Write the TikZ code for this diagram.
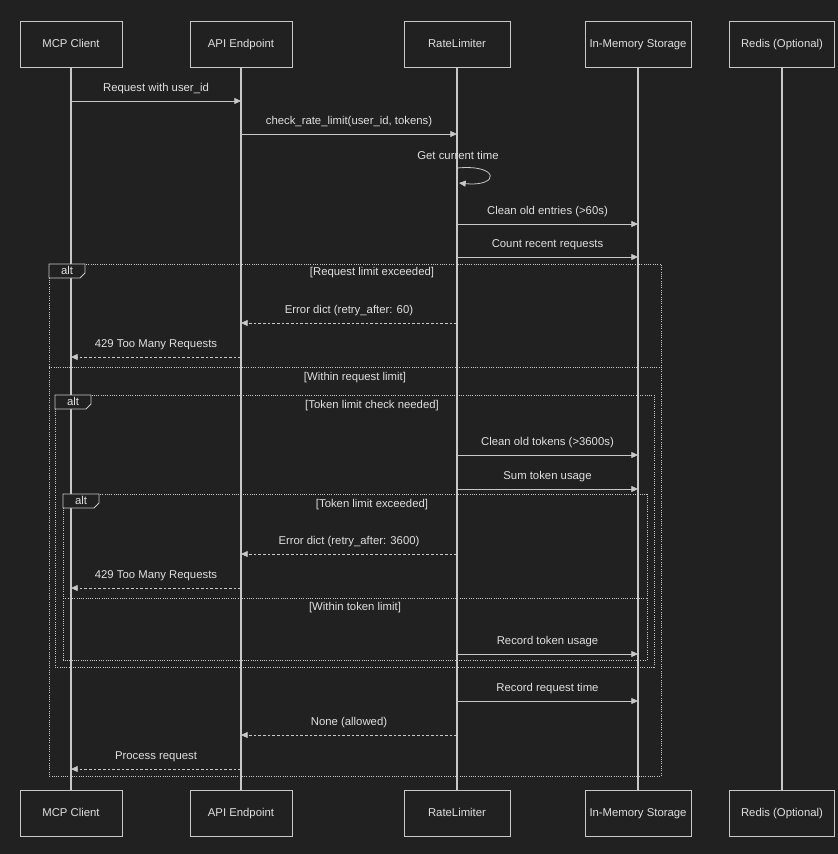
\documentclass[tikz,border=0pt]{standalone}
\usepackage{fontspec}
\setmainfont{Liberation Sans}
\usetikzlibrary{arrows.meta}
\definecolor{bg}{HTML}{212121}
\definecolor{ln}{HTML}{C8C8C8}
\definecolor{tx}{HTML}{E0E0E0}
\begin{document}
\begin{tikzpicture}[x=0.75pt,y=-0.75pt,font=\fontsize{8.5}{10}\selectfont,text=tx,
 actor/.style={draw=ln,fill=bg,minimum width=76.5pt,minimum height=34.5pt,inner sep=1pt,text height=6.5pt,text depth=2pt},
 life/.style={ln,line width=1pt},
 msg/.style={ln,line width=0.6pt,-{Triangle[length=5pt,width=4.5pt]}},
 rep/.style={msg,dash pattern=on 2pt off 1.5pt},
 lbl/.style={font=\fontsize{8.5}{10}\selectfont,text=tx,text height=6.5pt,text depth=2pt},
 frame/.style={ln,densely dotted,line width=0.7pt},
 tab/.style={draw=ln,line width=0.6pt,fill=bg}]
\fill[bg] (0,0) rectangle (838,854);
\useasboundingbox (0,0) rectangle (838,854);
\foreach \n/\x/\t/\w in {a/71/MCP Client/102,b/241/API Endpoint/102,c/457/RateLimiter/106,d/638/In-Memory Storage/106,e/782/Redis (Optional)/105}{
 \coordinate (\n t) at (\x,67); \coordinate (\n b) at (\x,790);
 \draw[life] (\n t) -- (\n b);
 \node[actor,minimum width=\w*0.75pt] (\n top) at (\x,44) {\t};
 \node[actor,minimum width=\w*0.75pt] (\n bot) at (\x,813) {\t};
}
% frames
\draw[frame] (49,264) rectangle (661,776);
\draw[frame] (49,367) -- (661,367);
\draw[frame] (55,395) rectangle (654,667);
\draw[frame] (63,494) rectangle (647,660);
\draw[frame] (63,598) -- (647,598);
\foreach \x/\y in {49/264,55/395,63/494}{
 \draw[tab] (\x,\y) -- (\x+36,\y) -- (\x+36,\y+9) -- (\x+31,\y+14) -- (\x,\y+14) -- cycle;
 \node[lbl] at (\x+18,\y+7) {alt};
}
\node[lbl] at (372,272) {[Request limit exceeded]};
\node[lbl] at (355,377) {[Within request limit]};
\node[lbl] at (372,405) {[Token limit check needed]};
\node[lbl] at (372,504) {[Token limit exceeded]};
\node[lbl] at (355,607) {[Within token limit]};
% messages
\newcommand\hm[6]{\coordinate (s#6) at (#1,#3); \coordinate (e#6) at (#2,#3);
 \draw[#5] (s#6) -- (e#6); \node[lbl] at ({(#1+#2)/2},#3-13) {#4};}
\hm{71}{241}{101}{Request with user\_id}{msg}{1}
\hm{241}{457}{134}{check\_rate\_limit(user\_id, tokens)}{msg}{2}
\node[lbl] at (458,156) {Get current time};
\coordinate (l1) at (457,168); \coordinate (l2) at (459,183);
\draw[msg] (l1) .. controls (500,164) and (500,187) .. (l2);
\hm{457}{638}{224}{Clean old entries (>60s)}{msg}{4}
\hm{457}{638}{257}{Count recent requests}{msg}{5}
\hm{457}{241}{323}{Error dict (retry\_after: 60)}{rep}{6}
\hm{241}{71}{357}{429 Too Many Requests}{rep}{7}
\hm{457}{638}{455}{Clean old tokens (>3600s)}{msg}{8}
\hm{457}{638}{489}{Sum token usage}{msg}{9}
\hm{457}{241}{554}{Error dict (retry\_after: 3600)}{rep}{10}
\hm{241}{71}{588}{429 Too Many Requests}{rep}{11}
\hm{457}{638}{654}{Record token usage}{msg}{12}
\hm{457}{638}{701}{Record request time}{msg}{13}
\hm{457}{241}{735}{None (allowed)}{rep}{14}
\hm{241}{71}{769}{Process request}{rep}{15}
\end{tikzpicture}
\end{document}
